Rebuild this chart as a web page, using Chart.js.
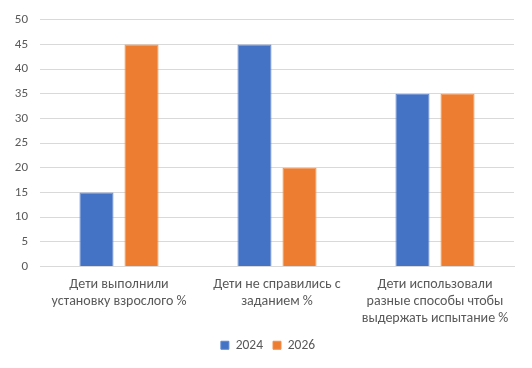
<!DOCTYPE html>
<html>
<head>
<meta charset="utf-8">
<script src="https://cdn.jsdelivr.net/npm/chart.js@4.4.0/dist/chart.umd.min.js"></script>
<style>
  html, body { margin: 0; padding: 0; background: #fff; }
  #wrap { width: 532px; height: 368px; position: relative; }
</style>
</head>
<body>
<div id="wrap"><canvas id="chart"></canvas></div>
<script>
const categories = [
  ["Дети выполнили", "установку взрослого %"],
  ["Дети не справились с", "заданием %"],
  ["Дети использовали", "разные способы чтобы", "выдержать испытание %"]
];
const values2024 = [15, 45, 35];
const values2026 = [45, 20, 35];

const fontFamily = "Carlito, Calibri, Lato, 'Liberation Sans', sans-serif";

// center the legend on the whole canvas, not only on the padded area
const centerLegend = {
  id: "centerLegend",
  afterLayout(chart) {
    const lg = chart.legend;
    lg.left = 4;
    lg.right = chart.width;
    lg.width = lg.right - lg.left;
  }
};

new Chart(document.getElementById("chart").getContext("2d"), {
  type: "bar",
  data: {
    labels: categories,
    datasets: [
      {
        label: "2024",
        data: values2024,
        backgroundColor: "#4472C4",
        borderColor: "#5F87CF",
        borderWidth: 1,
        categoryPercentage: 0.57,
        barPercentage: 0.756
      },
      {
        label: "2026",
        data: values2026,
        backgroundColor: "#ED7D31",
        borderColor: "#F09050",
        borderWidth: 1,
        categoryPercentage: 0.57,
        barPercentage: 0.756
      }
    ]
  },
  options: {
    responsive: true,
    maintainAspectRatio: false,
    animation: false,
    layout: { padding: { left: 0, right: 18, top: 12, bottom: 6 } },
    plugins: {
      tooltip: { enabled: false },
      legend: {
        position: "bottom",
        labels: {
          boxWidth: 8,
          boxHeight: 8,
          padding: 10,
          color: "#595959",
          font: { family: fontFamily, size: 13.5 }
        }
      }
    },
    scales: {
      x: {
        grid: { display: false, drawTicks: false },
        border: { display: true, color: "#D9D9D9", width: 1 },
        ticks: {
          color: "#595959",
          padding: 10,
          maxRotation: 0,
          font: { family: fontFamily, size: 14, lineHeight: 1.2 }
        },
        afterFit: (scale) => { scale.height = 62; }
      },
      y: {
        min: 0,
        max: 50,
        ticks: {
          stepSize: 5,
          color: "#595959",
          padding: 12,
          font: { family: fontFamily, size: 13 }
        },
        grid: { color: "#D9D9D9", drawTicks: false },
        border: { display: false },
        afterFit: (scale) => { scale.width = 40; }
      }
    }
  },
  plugins: [centerLegend]
});
</script>
</body>
</html>
